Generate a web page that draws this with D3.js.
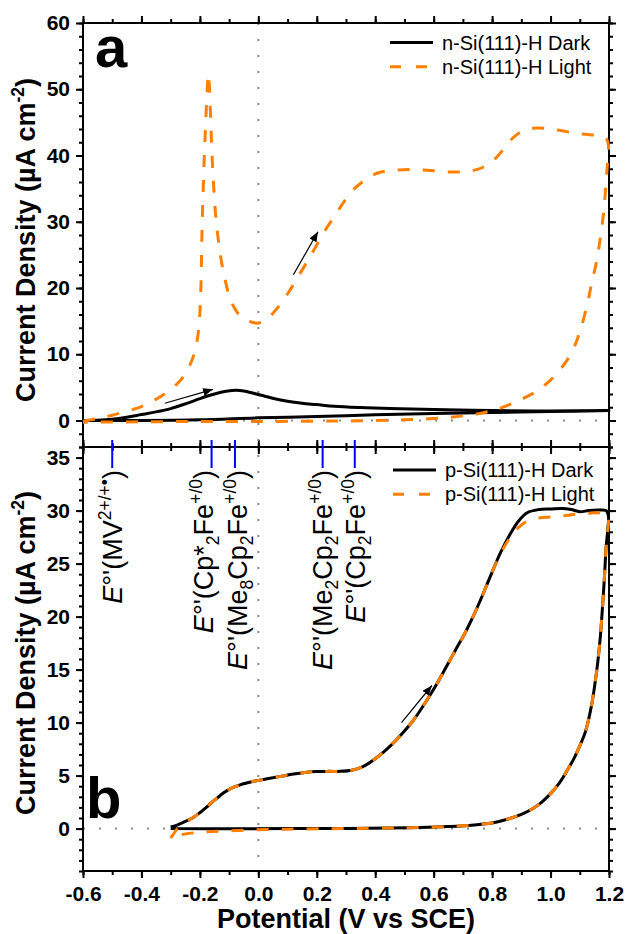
<!DOCTYPE html>
<html>
<head>
<meta charset="utf-8">
<script src="https://cdn.jsdelivr.net/npm/d3@7"></script>
<style>
  body { margin: 0; background: #fff; }
  svg { display: block; }
  text { font-family: Arial, "Liberation Sans", sans-serif; }
</style>
</head>
<body>
<div id="chart"></div>
<script>
// ---- panel a: n-Si(111)-H, potential (V vs SCE) and current density (uA cm-2)
const aDarkV = [-0.60, -0.55, -0.50, -0.45, -0.40, -0.35, -0.30, -0.25, -0.20, -0.15, -0.11, -0.075, -0.05, -0.02, 0.02, 0.06, 0.10, 0.15, 0.20, 0.26, 0.35, 0.45, 0.60, 0.80, 1.00, 1.20,
  1.00, 0.80, 0.60, 0.40, 0.20, 0.00, -0.20, -0.40, -0.60];
const aDarkJ = [0.0, 0.05, 0.2, 0.5, 0.9, 1.3, 1.8, 2.5, 3.3, 4.0, 4.4, 4.55, 4.45, 4.15, 3.7, 3.25, 2.9, 2.6, 2.4, 2.15, 1.95, 1.8, 1.65, 1.5, 1.45, 1.5,
  1.35, 1.2, 1.05, 0.85, 0.6, 0.4, 0.1, 0.0, 0.0];

const aLightV = [-0.60, -0.55, -0.50, -0.45, -0.40, -0.35, -0.30, -0.27, -0.25, -0.23, -0.215, -0.205, -0.198, -0.193, -0.188, -0.182, -0.176, -0.171, -0.167, -0.162, -0.155, -0.145, -0.13, -0.115, -0.095, -0.07, -0.04, -0.01,
  0.02, 0.05, 0.08, 0.11, 0.14, 0.17, 0.20, 0.23, 0.26, 0.29, 0.32, 0.35, 0.38, 0.42, 0.47, 0.53, 0.60, 0.66, 0.71, 0.75, 0.78, 0.81, 0.84, 0.87, 0.90, 0.94, 0.98, 1.03, 1.08, 1.12, 1.16, 1.19, 1.198,
  1.195, 1.19, 1.183, 1.175, 1.165, 1.155, 1.14, 1.125, 1.10, 1.08, 1.055, 1.025, 1.00, 0.97, 0.94, 0.90, 0.87, 0.83, 0.80, 0.75, 0.70, 0.62, 0.50, 0.35, 0.20, 0.00, -0.20, -0.40, -0.60];
const aLightJ = [-0.1, 0.3, 0.8, 1.4, 2.1, 3.2, 4.7, 5.9, 7.0, 8.8, 10.8, 13.5, 18, 28, 36, 43, 49, 52.3, 50, 44, 37, 30.5, 25, 21.5, 18.2, 16.2, 15.2, 14.7,
  15.0, 16.2, 17.8, 19.8, 22.0, 24.2, 26.5, 28.8, 30.8, 32.8, 34.6, 35.8, 36.8, 37.5, 37.8, 37.9, 37.7, 37.5, 37.6, 37.9, 38.5, 39.5, 41.0, 42.6, 43.6, 44.1, 44.1, 43.8, 43.4, 43.2, 43.0, 42.6, 41.5,
  39.0, 36.0, 32.0, 29.0, 26.0, 23.5, 20.6, 17.4, 13.4, 11.0, 9.0, 7.3, 6.1, 5.0, 4.1, 3.2, 2.6, 1.9, 1.5, 1.0, 0.7, 0.35, 0.1, -0.05, -0.1, -0.15, -0.15, -0.2, -0.25];

// ---- panel b: p-Si(111)-H
const bDarkV = [-0.30, -0.28, -0.26, -0.24, -0.22, -0.20, -0.18, -0.16, -0.14, -0.12, -0.10, -0.08, -0.06, -0.04, -0.02, 0.00, 0.04, 0.08, 0.12, 0.16, 0.20, 0.24, 0.28, 0.32, 0.35, 0.38,
  0.41, 0.44, 0.47, 0.50, 0.53, 0.56, 0.59, 0.62, 0.65, 0.68, 0.71, 0.74, 0.77, 0.80, 0.83, 0.86, 0.89, 0.92, 0.96, 1.00, 1.04, 1.07, 1.10, 1.13, 1.16, 1.19, 1.198,
  1.195, 1.19, 1.185, 1.178, 1.17, 1.158, 1.14, 1.12, 1.10, 1.08, 1.055, 1.03, 1.00, 0.97, 0.94, 0.90, 0.86, 0.82, 0.78, 0.72, 0.65, 0.55, 0.45, 0.30, 0.10, -0.10, -0.30];
const bDarkJ = [0.15, 0.3, 0.55, 0.8, 1.1, 1.5, 1.95, 2.45, 2.9, 3.35, 3.7, 3.95, 4.15, 4.3, 4.45, 4.55, 4.75, 4.95, 5.15, 5.3, 5.38, 5.4, 5.4, 5.5, 5.75, 6.2,
  6.8, 7.5, 8.3, 9.2, 10.2, 11.4, 12.7, 14.1, 15.6, 17.1, 18.6, 20.3, 22.2, 24.2, 26.1, 27.7, 29.0, 29.8, 30.1, 30.15, 30.2, 30.1, 29.9, 30.0, 30.05, 30.0, 29.5,
  28.0, 26.5, 24.0, 21.0, 18.0, 14.9, 11.6, 9.2, 7.8, 6.6, 5.4, 4.3, 3.3, 2.5, 1.9, 1.35, 0.95, 0.65, 0.45, 0.3, 0.2, 0.1, 0.05, 0.0, 0.0, -0.02, 0.0];

const bLightV = [-0.30, -0.29, -0.28, -0.26, -0.24, -0.22, -0.20, -0.18, -0.16, -0.14, -0.12, -0.10, -0.08, -0.06, -0.04, -0.02, 0.00, 0.04, 0.08, 0.12, 0.16, 0.20, 0.24, 0.28, 0.32, 0.35, 0.38,
  0.41, 0.44, 0.47, 0.50, 0.53, 0.56, 0.59, 0.62, 0.65, 0.68, 0.71, 0.74, 0.77, 0.80, 0.83, 0.86, 0.89, 0.92, 0.96, 1.00, 1.04, 1.07, 1.10, 1.13, 1.16, 1.19, 1.198,
  1.195, 1.19, 1.185, 1.178, 1.17, 1.158, 1.14, 1.12, 1.10, 1.08, 1.055, 1.03, 1.00, 0.97, 0.94, 0.90, 0.86, 0.82, 0.78, 0.72, 0.65, 0.55, 0.45, 0.30, 0.10, -0.10, -0.20, -0.26, -0.29];
const bLightJ = [-0.9, -0.5, -0.1, 0.35, 0.75, 1.1, 1.5, 1.95, 2.45, 2.9, 3.35, 3.7, 3.95, 4.15, 4.3, 4.45, 4.55, 4.75, 4.95, 5.15, 5.3, 5.38, 5.4, 5.4, 5.5, 5.75, 6.2,
  6.8, 7.5, 8.3, 9.2, 10.2, 11.4, 12.7, 14.1, 15.6, 17.1, 18.6, 20.3, 22.2, 24.2, 26.0, 27.4, 28.4, 29.0, 29.3, 29.4, 29.5, 29.6, 29.7, 29.75, 29.8, 29.7, 29.3,
  28.0, 26.5, 24.0, 21.0, 18.0, 14.9, 11.6, 9.2, 7.8, 6.6, 5.4, 4.3, 3.3, 2.5, 1.9, 1.35, 0.95, 0.65, 0.45, 0.3, 0.2, 0.1, 0.05, 0.0, -0.05, -0.2, -0.35, -0.55, -0.8];

// formal potentials of the redox couples (V vs SCE)
const couplePot = [-0.50, -0.16, -0.08, 0.22, 0.33];
const coupleLabel = [
  [['E', 'it'], ["°'(MV"], ['2+/+•', 'sup'], [')']],
  [['E', 'it'], ["°'(Cp*"], ['2', 'sub'], ['Fe'], ['+/0', 'sup'], [')']],
  [['E', 'it'], ["°'(Me"], ['8', 'sub'], ['Cp'], ['2', 'sub'], ['Fe'], ['+/0', 'sup'], [')']],
  [['E', 'it'], ["°'(Me"], ['2', 'sub'], ['Cp'], ['2', 'sub'], ['Fe'], ['+/0', 'sup'], [')']],
  [['E', 'it'], ["°'(Cp"], ['2', 'sub'], ['Fe'], ['+/0', 'sup'], [')']]
];

// scan direction arrows [v0, j0, v1, j1]
const aArrows = [[-0.32, 2.6, -0.155, 4.7], [0.12, 22.0, 0.204, 28.5]];
const bArrows = [[0.49, 10.0, 0.594, 13.5]];

const xTicks = [-0.6, -0.4, -0.2, 0.0, 0.2, 0.4, 0.6, 0.8, 1.0, 1.2];
const aTicks = [0, 10, 20, 30, 40, 50, 60];
const bTicks = [0, 5, 10, 15, 20, 25, 30, 35];

const orange = '#ff8000';
const W = 627, H = 934;
const left = 83, right = 609;
const aTop = 23, mid = 447, bBottom = 871;

const x = d3.scaleLinear().domain([-0.6, 1.2]).range([left, right]);
const yA = d3.scaleLinear().domain([-4, 60]).range([mid, aTop]);
const yB = d3.scaleLinear().domain([-4, 36]).range([bBottom, mid]);

const svg = d3.select('#chart').append('svg')
  .attr('width', W)
  .attr('height', H);

svg.append('defs').append('marker')
  .attr('id', 'arrow')
  .attr('markerUnits', 'userSpaceOnUse')
  .attr('viewBox', '0 0 10 8')
  .attr('refX', 10).attr('refY', 4)
  .attr('markerWidth', 10).attr('markerHeight', 8)
  .attr('orient', 'auto')
  .append('path').attr('d', 'M0,0L10,4L0,8Z').attr('fill', '#000');

function minorsOf(lo, hi, step) {
  const out = [];
  for (let v = lo; v <= hi + 1e-9; v += step) out.push(+v.toFixed(3));
  return out;
}
const xMinor = minorsOf(-0.6, 1.2, 0.1);
const noLabel = () => '';

function styleAxis(g) {
  g.select('.domain').remove();
  g.selectAll('.tick line').attr('stroke', '#000').attr('stroke-width', 2);
  g.selectAll('.tick text').attr('fill', '#000').style('font-size', '21px').style('font-weight', 'bold');
}

function drawPanel(y, top, bottom, majors, minors) {
  const g = svg.append('g');

  // dotted zero line
  g.append('line')
    .attr('x1', left).attr('x2', right)
    .attr('y1', y(0)).attr('y2', y(0))
    .attr('stroke', '#8a8a8a').attr('stroke-width', 2)
    .attr('stroke-dasharray', '2,14');

  // left
  g.append('g').attr('transform', `translate(${left},0)`)
    .call(d3.axisLeft(y).tickValues(minors).tickSize(4).tickFormat(noLabel))
    .call(styleAxis);
  g.append('g').attr('transform', `translate(${left},0)`)
    .call(d3.axisLeft(y).tickValues(majors).tickSize(7).tickPadding(6).tickFormat(d3.format('d')))
    .call(styleAxis);
  // right
  g.append('g').attr('transform', `translate(${right},0)`)
    .call(d3.axisRight(y).tickValues(minors).tickSize(4).tickFormat(noLabel))
    .call(styleAxis);
  g.append('g').attr('transform', `translate(${right},0)`)
    .call(d3.axisRight(y).tickValues(majors).tickSize(7).tickFormat(noLabel))
    .call(styleAxis);
  // top
  g.append('g').attr('transform', `translate(0,${top})`)
    .call(d3.axisTop(x).tickValues(xMinor).tickSize(4).tickFormat(noLabel))
    .call(styleAxis);
  g.append('g').attr('transform', `translate(0,${top})`)
    .call(d3.axisTop(x).tickValues(xTicks).tickSize(7).tickFormat(noLabel))
    .call(styleAxis);
  // bottom minor
  g.append('g').attr('transform', `translate(0,${bottom})`)
    .call(d3.axisBottom(x).tickValues(xMinor).tickSize(4).tickFormat(noLabel))
    .call(styleAxis);
  return g;
}

drawPanel(yA, aTop, mid, aTicks, minorsOf(-4, 60, 2));
drawPanel(yB, mid, bBottom, bTicks, minorsOf(-4, 36, 1));

// bottom major ticks, labelled only on the lower panel
svg.append('g').attr('transform', `translate(0,${bBottom})`)
  .call(d3.axisBottom(x).tickValues(xTicks).tickSize(7).tickPadding(8).tickFormat(d => d.toFixed(1)))
  .call(styleAxis);
svg.append('g').attr('transform', `translate(0,${mid})`)
  .call(d3.axisBottom(x).tickValues(xTicks).tickSize(7).tickFormat(noLabel))
  .call(styleAxis);

// vertical dotted line at 0 V through both panels
svg.append('line')
  .attr('x1', x(0)).attr('x2', x(0))
  .attr('y1', aTop).attr('y2', bBottom)
  .attr('stroke', '#8a8a8a').attr('stroke-width', 2)
  .attr('stroke-dasharray', '2,14');

// frames
[[aTop, mid], [mid, bBottom]].forEach(([t, b]) => {
  svg.append('rect')
    .attr('x', left).attr('y', t)
    .attr('width', right - left).attr('height', b - t)
    .attr('fill', 'none').attr('stroke', '#000').attr('stroke-width', 2);
});

// curves
function curve(vs, js, y, color, dashed) {
  const pts = vs.map((v, i) => [v, js[i]]);
  const line = d3.line()
    .x(d => x(d[0]))
    .y(d => y(d[1]))
    .curve(d3.curveCatmullRom.alpha(0.5));
  svg.append('path')
    .datum(pts)
    .attr('d', line)
    .attr('fill', 'none')
    .attr('stroke', color)
    .attr('stroke-width', 3)
    .attr('stroke-linejoin', 'round')
    .attr('stroke-dasharray', dashed ? '12,13' : null);
}
curve(aDarkV, aDarkJ, yA, '#000', false);
curve(aLightV, aLightJ, yA, orange, true);
curve(bDarkV, bDarkJ, yB, '#000', false);
curve(bLightV, bLightJ, yB, orange, true);

// arrows
function arrows(list, y) {
  list.forEach(a => {
    svg.append('line')
      .attr('x1', x(a[0])).attr('y1', y(a[1]))
      .attr('x2', x(a[2])).attr('y2', y(a[3]))
      .attr('stroke', '#000').attr('stroke-width', 1.2)
      .attr('marker-end', 'url(#arrow)');
  });
}
arrows(aArrows, yA);
arrows(bArrows, yB);

// rich text helper (italic, superscript, subscript)
function rich(textSel, parts, fs) {
  let shift = 0;
  parts.forEach(([t, kind]) => {
    let target = 0, size = fs;
    if (kind === 'sup') { target = -0.42 * fs; size = 0.65 * fs; }
    if (kind === 'sub') { target = 0.22 * fs; size = 0.65 * fs; }
    const ts = textSel.append('tspan')
      .attr('dy', target - shift)
      .style('font-size', size + 'px')
      .text(t);
    if (kind === 'it') ts.style('font-style', 'italic');
    shift = target;
  });
}

// redox couple markers and labels
const labelShift = [10, 1.5, 12, 9.5, 10.5];
couplePot.forEach((v, i) => {
  svg.append('line')
    .attr('x1', x(v)).attr('x2', x(v))
    .attr('y1', 440).attr('y2', 468)
    .attr('stroke', '#0000ff').attr('stroke-width', 2);
  const t = svg.append('text')
    .attr('transform', `translate(${x(v) + labelShift[i]},470) rotate(-90)`)
    .attr('text-anchor', 'end')
    .style('font-size', '27px')
    .attr('fill', '#000');
  rich(t, coupleLabel[i], 27);
});

// panel letters
svg.append('text').attr('x', 95).attr('y', 67)
  .style('font-size', '58px').style('font-weight', 'bold').text('a');
svg.append('text').attr('x', 86).attr('y', 818)
  .style('font-size', '58px').style('font-weight', 'bold').text('b');

// axis titles
function yTitle(cy) {
  const t = svg.append('text')
    .attr('transform', `translate(35,${cy}) rotate(-90)`)
    .attr('text-anchor', 'middle')
    .style('font-size', '27px').style('font-weight', 'bold');
  rich(t, [['Current Density (µA cm'], ['-2', 'sup'], [')']], 27);
}
yTitle(240);
yTitle(653);

svg.append('text')
  .attr('x', (left + right) / 2).attr('y', 928)
  .attr('text-anchor', 'middle')
  .style('font-size', '27px').style('font-weight', 'bold')
  .text('Potential (V vs SCE)');

// legends
function legend(x0, y0, names) {
  names.forEach((name, i) => {
    const yy = y0 + i * 24.3;
    svg.append('line')
      .attr('x1', x0).attr('x2', x0 + 43)
      .attr('y1', yy).attr('y2', yy)
      .attr('stroke', i === 0 ? '#000' : orange)
      .attr('stroke-width', 3)
      .attr('stroke-dasharray', i === 0 ? null : '11,15');
    svg.append('text')
      .attr('x', x0 + 52).attr('y', yy + 7)
      .style('font-size', '20px')
      .text(name);
  });
}
legend(390, 42.5, ['n-Si(111)-H Dark', 'n-Si(111)-H Light']);
legend(393, 470, ['p-Si(111)-H Dark', 'p-Si(111)-H Light']);
</script>
</body>
</html>
